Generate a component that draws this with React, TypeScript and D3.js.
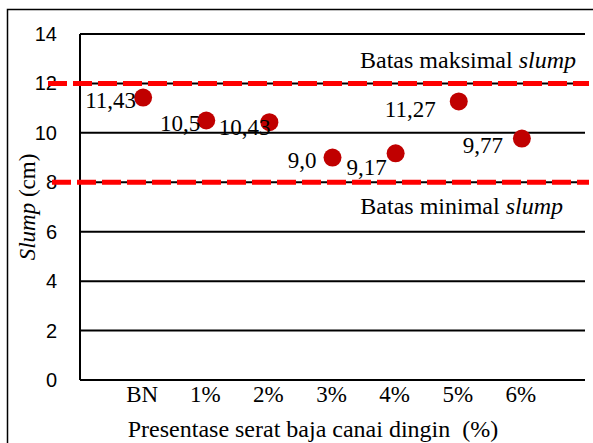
import * as d3 from "d3";
import React, { useEffect, useRef } from "react";

// data
const categories = ["BN", "1%", "2%", "3%", "4%", "5%", "6%"];
const slumpValues = [11.43, 10.5, 10.43, 9.0, 9.17, 11.27, 9.77];
const slumpLabels = ["11,43", "10,5", "10,43", "9,0", "9,17", "11,27", "9,77"];
const yTicks = [0, 2, 4, 6, 8, 10, 12, 14];
const limitMax = 12;
const limitMin = 8;

// label offsets (dx from point to label end, dy to baseline)
const labelDx = [-7, -6, 1, -16, -9, -23, -19];
const labelDy = [10, 10, 13, 10, 22, 16, 14];

export default function App() {
  const ref = useRef<SVGSVGElement>(null);

  useEffect(() => {
    const svg = d3.select(ref.current);
    svg.selectAll("*").remove();

    const width = 593,
      height = 443;
    const plot = { left: 80, right: 585, top: 34, bottom: 380 };
    const serif = "'Liberation Serif', 'Times New Roman', serif";

    svg.attr("width", width).attr("height", height);

    // outer frame
    svg.append("rect")
      .attr("x", 7.5).attr("y", 9.5)
      .attr("width", 600).attr("height", 460)
      .attr("fill", "white")
      .attr("stroke", "black")
      .attr("stroke-width", 1.5);

    var x = d3.scaleLinear().domain([0, categories.length + 1]).range([plot.left, plot.right]);
    var y = d3.scaleLinear().domain([0, 14]).range([plot.bottom, plot.top]);

    // gridlines
    svg.append("g")
      .selectAll("line")
      .data(yTicks)
      .enter().append("line")
      .attr("x1", plot.left).attr("x2", plot.right)
      .attr("y1", (d) => y(d)).attr("y2", (d) => y(d))
      .attr("stroke", "black")
      .attr("stroke-width", 2);

    // y axis line
    svg.append("line")
      .attr("x1", plot.left).attr("x2", plot.left)
      .attr("y1", y(14)).attr("y2", y(0))
      .attr("stroke", "black")
      .attr("stroke-width", 2);

    // y tick labels
    svg.append("g")
      .selectAll("text")
      .data(yTicks)
      .enter().append("text")
      .attr("x", 57)
      .attr("y", (d) => y(d) + 7)
      .attr("text-anchor", "end")
      .attr("font-family", "'Liberation Sans', Arial, sans-serif")
      .attr("font-size", "20px")
      .text((d) => d);

    // x tick labels
    svg.append("g")
      .selectAll("text")
      .data(categories)
      .enter().append("text")
      .attr("x", (d, i) => x(i + 1) - 1)
      .attr("y", 402)
      .attr("text-anchor", "middle")
      .attr("font-family", serif)
      .attr("font-size", "23px")
      .text((d) => d);

    // limit lines
    [limitMax, limitMin].forEach((v, i) => {
      svg.append("line")
        .attr("x1", i == 0 ? 48 : 52).attr("x2", 589)
        .attr("y1", y(v)).attr("y2", y(v))
        .attr("stroke", "#FF0000")
        .attr("stroke-width", 5)
        .attr("stroke-dasharray", "19,6");
    });

    var maxLabel = svg.append("text")
      .attr("x", 576).attr("y", 68)
      .attr("text-anchor", "end")
      .attr("font-family", serif)
      .attr("font-size", "24px");
    maxLabel.append("tspan").text("Batas maksimal ");
    maxLabel.append("tspan").attr("font-style", "italic").text("slump");

    var minLabel = svg.append("text")
      .attr("x", 563).attr("y", 214)
      .attr("text-anchor", "end")
      .attr("font-family", serif)
      .attr("font-size", "24px");
    minLabel.append("tspan").text("Batas minimal ");
    minLabel.append("tspan").attr("font-style", "italic").text("slump");

    // points
    svg.append("g")
      .selectAll("circle")
      .data(slumpValues)
      .enter().append("circle")
      .attr("cx", (d, i) => x(i + 1))
      .attr("cy", (d) => y(d))
      .attr("r", 9)
      .attr("fill", "#C00000");

    // data labels
    svg.append("g")
      .selectAll("text")
      .data(slumpValues)
      .enter().append("text")
      .attr("x", (d, i) => x(i + 1) + labelDx[i])
      .attr("y", (d, i) => y(d) + labelDy[i])
      .attr("text-anchor", "end")
      .attr("font-family", serif)
      .attr("font-size", "23px")
      .text((d, i) => slumpLabels[i]);

    // axis titles
    var yTitle = svg.append("text")
      .attr("transform", "translate(35," + (plot.top + plot.bottom) / 2 + ") rotate(-90)")
      .attr("text-anchor", "middle")
      .attr("font-family", serif)
      .attr("font-size", "23px");
    yTitle.append("tspan").attr("font-style", "italic").text("Slump");
    yTitle.append("tspan").text(" (cm)");

    svg.append("text")
      .attr("x", 313).attr("y", 437)
      .attr("text-anchor", "middle")
      .attr("font-family", serif)
      .attr("font-size", "24px")
      .attr("xml:space", "preserve")
      .style("white-space", "pre")
      .text("Presentase serat baja canai dingin  (%)");
  }, []);

  return (
    <div style={{ position: "fixed", left: 0, top: 0 }}>
      <svg ref={ref} style={{ display: "block" }}></svg>
    </div>
  );
}
